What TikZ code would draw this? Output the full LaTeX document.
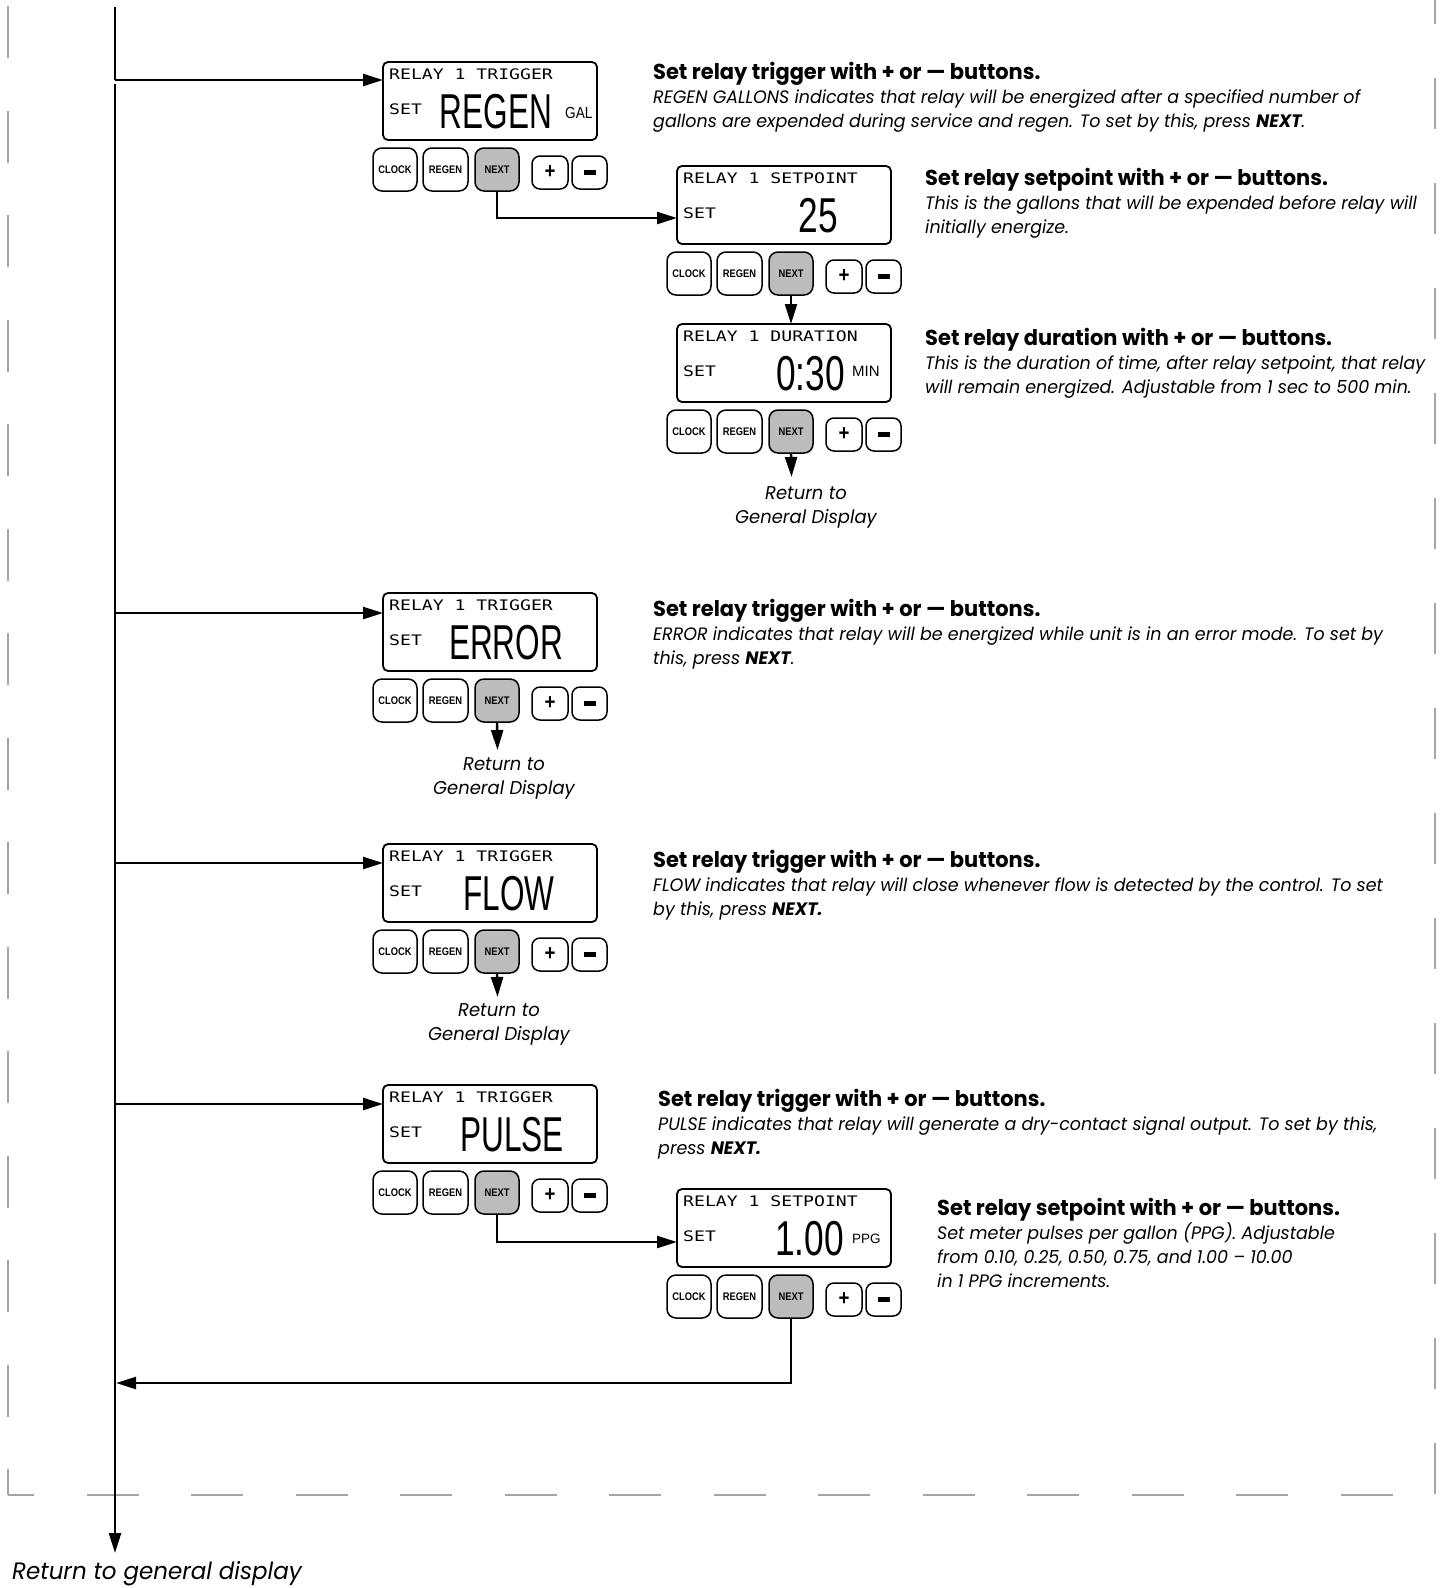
\documentclass[tikz,border=0pt]{standalone}
\usepackage{fontspec}
\usetikzlibrary{arrows.meta}
\setmainfont{Liberation Sans}
\newfontfamily\lcdfam[FakeStretch=1.25]{DejaVu Sans Mono}
\newfontfamily\bigfam[FakeStretch=0.644]{Liberation Sans}
\newfontfamily\numfam[FakeStretch=0.72]{Liberation Sans}
\newfontfamily\btnfam[FakeStretch=0.85]{Liberation Sans}
\newfontfamily\descfam[FakeStretch=0.97]{Poppins}
\definecolor{btngray}{RGB}{188,188,190}
\definecolor{dashgray}{RGB}{165,165,165}
\newcommand\lcdpanel[4]{%
  \node[lcdbox] (#1) at (#2,#3) {};
  \node[lcdtxt] (#1-hd) at ({#2+6},{#3+17}) {#4};
  \node[lcdtxt] (#1-set) at ({#2+6},{#3+52}) {SET};
  \node[btn] (#1-clock) at ({#2-10},{#3+86}) {CLOCK};
  \node[btn, minimum width=45pt] (#1-regen) at ({#2+40},{#3+86}) {REGEN};
  \node[nextbtn] (#1-next) at ({#2+92},{#3+86}) {NEXT};
  \node[pmbtn] (#1-plus) at ({#2+149},{#3+94}) {+};
  \node[pmbtn, minimum width=35pt] (#1-minus) at ({#2+189},{#3+94}) {\rule{12pt}{4.5pt}};
}
\newcommand\ttl[1]{{\bfseries\upshape\fontsize{21.6}{24}\selectfont #1}}
\begin{document}
\begin{tikzpicture}[x=1pt,y=-1pt,
  lcdbox/.style={draw, line width=1.8pt, rounded corners=5pt, minimum width=214pt, minimum height=78pt, anchor=north west, inner sep=0pt, outer sep=0pt},
  lcdtxt/.style={anchor=base west, inner sep=0pt, font=\lcdfam\fontsize{14.5}{17}\selectfont},
  bigval/.style={anchor=base, inner sep=0pt, font=\bigfam\fontsize{49}{50}\selectfont},
  bigvalr/.style={anchor=base east, inner sep=0pt, font=\numfam\fontsize{49}{50}\selectfont},
  unit/.style={anchor=base west, inner sep=0pt, font=\normalfont\fontsize{15}{16}\selectfont},
  btn/.style={draw, line width=1.5pt, rounded corners=9pt, minimum width=44pt, minimum height=43pt, anchor=north west, inner sep=0pt, outer sep=0pt, font=\btnfam\bfseries\fontsize{11}{12}\selectfont},
  nextbtn/.style={btn, fill=btngray},
  pmbtn/.style={draw, line width=1.5pt, rounded corners=8pt, minimum width=36pt, minimum height=33pt, anchor=north west, inner sep=0pt, outer sep=0pt, font=\btnfam\bfseries\fontsize{22}{22}\selectfont},
  wire/.style={line width=2.4pt},
  conn/.style={wire, -{Triangle[length=20pt,width=12pt]}},
  desc/.style={anchor=north west, inner sep=0pt, align=left, font=\descfam\itshape\fontsize{18}{24}\selectfont},
  ret/.style={anchor=north, inner sep=0pt, align=center, font=\descfam\itshape\fontsize{18.5}{24}\selectfont},
  border/.style={dashgray, line width=2pt, dash pattern=on 52pt off 52.5pt}
]
\useasboundingbox (0,0) rectangle (1441,1588);

% dashed frame
\draw[border, dash phase=26pt] (8,1495) -- (8,0);
\draw[border, dash phase=26pt] (8,1495) -- (1435,1495);
\draw[border, dash pattern=on 51pt off 54pt] (1435,1494) -- (1435,0);

% panels
\lcdpanel{p1}{383}{62}{RELAY 1 TRIGGER}
\node[bigval] (p1-val) at (496,128) {REGEN};
\node[anchor=base west, inner sep=0pt, font=\btnfam\fontsize{16}{17}\selectfont] (p1-unit) at (565,118) {GAL};

\lcdpanel{p2}{677}{166}{RELAY 1 SETPOINT}
\node[bigvalr] (p2-val) at (838,232) {25};

\lcdpanel{p3}{677}{324}{RELAY 1 DURATION}
\node[bigvalr] (p3-val) at (845,390) {0:30};
\node[unit] (p3-unit) at (852,376) {MIN};

\lcdpanel{p4}{383}{593}{RELAY 1 TRIGGER}
\node[bigval] (p4-val) at (506,659) {ERROR};

\lcdpanel{p5}{383}{844}{RELAY 1 TRIGGER}
\node[bigval] (p5-val) at (509,910) {FLOW};

\lcdpanel{p6}{383}{1085}{RELAY 1 TRIGGER}
\node[bigval] (p6-val) at (512,1151) {PULSE};

\lcdpanel{p7}{677}{1189}{RELAY 1 SETPOINT}
\node[bigvalr] (p7-val) at (844,1255) {1.00};
\node[unit, font=\normalfont\fontsize{13.5}{15}\selectfont] (p7-unit) at (852,1243) {PPG};

% main line
\coordinate (top) at (115,7);
\coordinate (j1) at (115,80);
\coordinate (j1b) at (115,84);
\coordinate (j4) at (115,613);
\coordinate (j5) at (115,863);
\coordinate (j6) at (115,1104);
\coordinate (jr) at (116,1383);
\coordinate (bot) at (115,1553);
\draw[wire] (top) -- (j1);
\draw[conn] (j1b) -- (bot);
\draw[conn] (j1) -- (j1 -| p1.west);
\draw[conn] (j4) -- (j4 -| p4.west);
\draw[conn] (j5) -- (j5 -| p5.west);
\draw[conn] (j6) -- (j6 -| p6.west);

% next connectors
\coordinate (p2-in) at (677,218);
\draw[conn] (p1-next.south) |- (p2-in);
\draw[conn] (p2-next.south) -- (p2-next.south |- p3.north);
\coordinate (r3) at (791.5,477);
\draw[conn] (p3-next.south) -- (r3);
\coordinate (r4) at (497.5,750);
\draw[conn] (p4-next.south) -- (r4);
\coordinate (r5) at (497.5,997);
\draw[conn] (p5-next.south) -- (r5);
\coordinate (p7-in) at (677,1242);
\draw[conn] (p6-next.south) |- (p7-in);
\draw[conn] (p7-next.south) |- (jr);

% return labels
\node[ret] (t3) at (806,486) {Return to\\General Display};
\node[ret] (t4) at (504,757) {Return to\\General Display};
\node[ret] (t5) at (499,1003) {Return to\\General Display};
\node[anchor=base, inner sep=0pt, font=\descfam\itshape\fontsize{23.7}{28}\selectfont] (tb) at (157,1579) {Return to general display};

% descriptions
\node[desc] (d1) at (653,62) {\ttl{Set relay trigger with + or — buttons.}\\
REGEN GALLONS indicates that relay will be energized after a specified number of\\
gallons are expended during service and regen. To set by this, press \textbf{NEXT}.};
\node[desc] (d2) at (925,168) {\ttl{Set relay setpoint with + or — buttons.}\\
This is the gallons that will be expended before relay will\\
initially energize.};
\node[desc] (d3) at (925,328) {\ttl{Set relay duration with + or — buttons.}\\
This is the duration of time, after relay setpoint, that relay\\
will remain energized. Adjustable from 1 sec to 500 min.};
\node[desc] (d4) at (653,599) {\ttl{Set relay trigger with + or — buttons.}\\
ERROR indicates that relay will be energized while unit is in an error mode. To set by\\
this, press \textbf{NEXT}.};
\node[desc] (d5) at (653,850) {\ttl{Set relay trigger with + or — buttons.}\\
FLOW indicates that relay will close whenever flow is detected by the control. To set\\
by this, press \textbf{NEXT.}};
\node[desc] (d6) at (658,1089) {\ttl{Set relay trigger with + or — buttons.}\\
PULSE indicates that relay will generate a dry-contact signal output. To set by this,\\
press \textbf{NEXT.}};
\node[desc] (d7) at (937,1198) {\ttl{Set relay setpoint with + or — buttons.}\\
Set meter pulses per gallon (PPG). Adjustable\\
from 0.10, 0.25, 0.50, 0.75, and 1.00 – 10.00\\
in 1 PPG increments.};
\end{tikzpicture}
\end{document}
